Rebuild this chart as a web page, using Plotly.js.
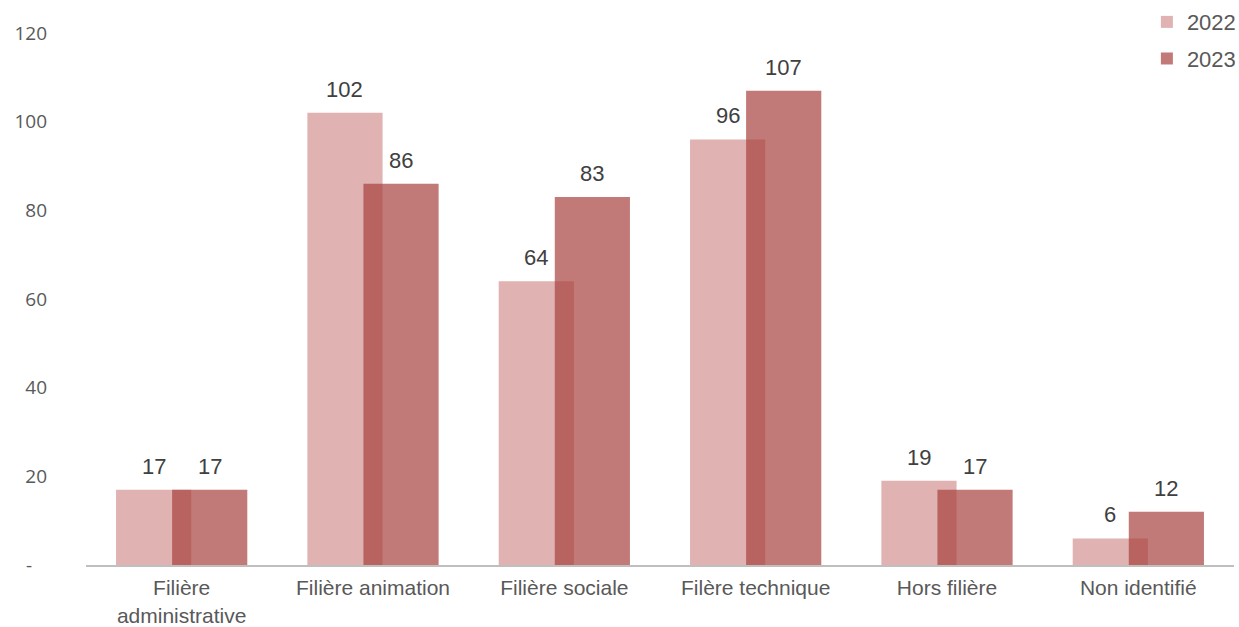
<!DOCTYPE html>
<html>
<head>
<meta charset="utf-8">
<script src="https://cdn.plot.ly/plotly-3.0.1.min.js"></script>
<style>html,body{margin:0;padding:0;background:#fff;}#chart{width:1239px;height:627px;}</style>
</head>
<body>
<div id="chart"></div>
<script>
const categories = ["Filière<br>administrative", "Filière animation", "Filière sociale", "Filère technique", "Hors filière", "Non identifié"];
const values2022 = [17, 102, 64, 96, 19, 6];
const values2023 = [17, 86, 83, 107, 17, 12];
const yTickVals = [0, 20, 40, 60, 80, 100, 120];
const yTickText = ["-\u00a0\u00a0\u00a0", "20", "40", "60", "80", "100", "120"];

const barWidth = 0.393;
const off2022 = -0.343;
const off2023 = -0.05;

const traces = [
  {
    type: "bar", name: "2022", legendgroup: "a", x: categories, y: values2022,
    width: barWidth, offset: off2022,
    marker: {color: "rgb(224,178,178)"},
    hoverinfo: "y"
  },
  {
    type: "bar", name: "2023", legendgroup: "b", x: categories, y: values2023,
    width: barWidth, offset: off2023,
    marker: {color: "rgba(168,66,62,0.7)"},
    hoverinfo: "y"
  }
];

const annotations = [];
[[values2022, off2022], [values2023, off2023]].forEach(([vals, off]) => {
  vals.forEach((v, i) => {
    annotations.push({
      x: i + off + barWidth / 2, y: v, xref: "x", yref: "y",
      text: String(v), showarrow: false, yanchor: "bottom",
      xshift: 0, yshift: 9,
      font: {family: "Liberation Sans, Arial, sans-serif", size: 22, color: "#404040"}
    });
  });
});

const layout = {
  width: 1239, height: 627,
  margin: {l: 86, r: 5, t: 33, b: 62, autoexpand: false},
  paper_bgcolor: "#fff", plot_bgcolor: "#fff",
  barmode: "overlay",
  showlegend: true,
  legend: {
    x: 1.006, xanchor: "right", y: 1.06, yanchor: "top",
    font: {family: "Liberation Sans, Arial, sans-serif", size: 22, color: "#595959"},
    itemwidth: 30, tracegroupgap: 5, bgcolor: "rgba(0,0,0,0)"
  },
  xaxis: {
    type: "category", showline: true, linecolor: "#bfbfbf", linewidth: 2,
    showgrid: false, ticks: "", zeroline: false,
    ticklabelstandoff: 3,
    tickfont: {family: "Liberation Sans, Arial, sans-serif", size: 21, color: "#595959"},
    range: [-0.5, 5.5]
  },
  yaxis: {
    range: [0, 120], tickvals: yTickVals, ticktext: yTickText,
    showgrid: false, zeroline: false, showline: false, ticks: "",
    ticklabelstandoff: 38,
    tickfont: {family: "Open Sans, sans-serif", size: 19, color: "#595959"}
  },
  annotations: annotations
};

Plotly.newPlot("chart", traces, layout, {displayModeBar: false});
</script>
</body>
</html>
